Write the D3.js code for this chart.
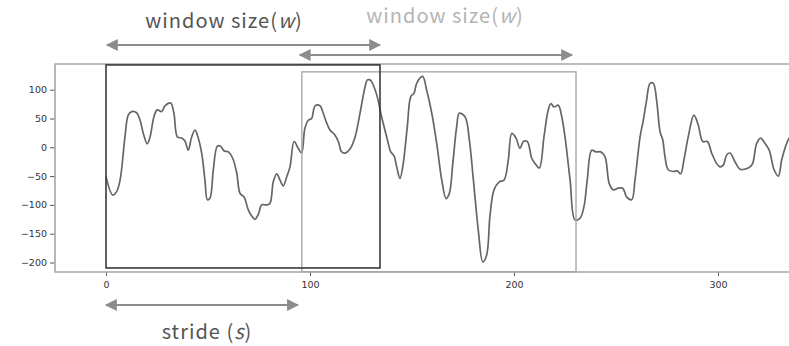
<!DOCTYPE html>
<html lang="en">
<head>
    <meta charset="UTF-8"/>
    <title>Sliding window</title>
    <script src="https://d3js.org/d3.v7.min.js"></script>
    <style>
        body { margin: 0; background: #fff; }
        text { font-family: "Noto Sans CJK KR", "Noto Sans", sans-serif; }
    </style>
</head>
<body>
<script>

    var w = 789;
    var h = 346;

    // time steps and signal values
    var steps = [0, 3.3, 5.2, 6.9, 9.3, 10.9, 12.6, 15, 16.7, 18.3, 20.2, 21.6, 23.5, 25.1, 27.3, 28.9, 31.7, 33.3, 35, 37.1,
        38.7, 40.3, 42, 43.6, 44.8, 46.9, 48.5, 49.7, 51, 52.6, 54.6, 56.2, 57.8, 60, 62.1, 64.1, 65.7, 67.6, 69.8, 71.4,
        73, 74.7, 76.3, 78.8, 80.4, 82, 83.7, 85.3, 86.9, 88.6, 90.2, 92.2, 94.3, 95.9, 97.5, 99.2, 100.8, 102.5, 104.9, 106.5,
        108.2, 109.8, 112.3, 113.9, 115.5, 117.2, 119.6, 122.1, 124.5, 127, 128.1, 129.4, 130.2, 132.7, 135.1, 137.6, 139.6, 141.2, 142.5, 144.1,
        145.7, 147.7, 149.4, 151, 152.3, 155.2, 157.2, 159.7, 162.1, 164.6, 166.7, 168.3, 170, 171.9, 173.2, 176, 178.1, 180.1, 182.5, 184.7,
        186.6, 188.2, 190.2, 192.8, 195.1, 197.2, 198.9, 201, 202.9, 204.6, 206.5, 208.7, 210.3, 212.4, 214.7, 216.8, 218.1, 219.6, 221.7, 223.4,
        225, 227.5, 229.9, 232.4, 234.3, 235.9, 238.1, 240.2, 242.5, 244.6, 246.7, 248.7, 251.1, 253.3, 255.2, 257.7, 259.3, 261.8, 263.4, 265,
        266.7, 268.3, 269.9, 271.6, 272.9, 274, 275.6, 278.1, 280, 281.7, 283.3, 285.4, 288.2, 290.3, 292.5, 294.8, 296.9, 299.3, 301, 302.6,
        304.3, 305.9, 308.3, 310.8, 313.2, 315.7, 317, 319, 320.9, 323, 325.1, 327.5, 329.6, 331.2, 332.8, 334.4, 337];
    var values = [-51, -83, -77, -57, 18, 56, 62, 60, 47, 24, 6, 18, 53, 65, 62, 72, 77, 59, 18, 16,
        11, -5, 18, 30, 21, -10, -57, -91, -88, -39, 2, 2, -6, -8, -19, -45, -80, -86, -109, -119,
        -125, -116, -100, -100, -97, -60, -46, -57, -67, -51, -34, 10, -2, -10, 33, 47, 50, 72, 72, 59,
        42, 30, 21, 10, -8, -10, -3, 18, 59, 105, 117, 117, 114, 91, 53, 18, -8, -15, -34, -54,
        -28, 36, 88, 94, 111, 123, 99, 59, 7, -57, -89, -80, -28, 36, 59, 53, 13, -57, -144, -199,
        -187, -120, -74, -60, -57, -22, 24, 16, -2, 10, 10, -19, -28, -36, 18, 65, 76, 70, 73, 53,
        18, -57, -126, -123, -103, -57, -5, -8, -8, -16, -63, -74, -71, -71, -86, -91, -57, 18, 47, 82,
        111, 111, 82, 27, 13, -16, -39, -42, -41, -46, -22, 18, 56, 39, 10, 10, -10, -28, -34, -31,
        -13, -10, -25, -38, -38, -34, -28, 7, 16, 7, -5, -39, -50, -22, -2, 13, 25];

    var xTicks = [0, 100, 200, 300];
    var yTicks = [100, 50, 0, -50, -100, -150, -200];

    // windows: [start, end] in steps
    var window1 = [0, 134.3];
    var window2 = [96, 230.4];

    var margin = {left: 55, top: 64, bottom: 272};

    var xScale = d3.scaleLinear()
                    .domain([-25, 335])
                    .range([margin.left, 789.4]);

    var yScale = d3.scaleLinear()
                    .domain([-216.5, 144.6])
                    .range([margin.bottom, margin.top]);

    var svg = d3.select("body")
                .append("svg")
                .attr("width", w)
                .attr("height", h);

    svg.append("defs").append("clipPath")
        .attr("id", "plot")
        .append("rect")
        .attr("x", margin.left)
        .attr("y", margin.top)
        .attr("width", w - margin.left)
        .attr("height", margin.bottom - margin.top);

    // arrow heads
    var defs = svg.select("defs");
    defs.append("marker")
        .attr("id", "head")
        .attr("viewBox", "0 0 10 10")
        .attr("refX", 9)
        .attr("refY", 5)
        .attr("markerWidth", 14)
        .attr("markerHeight", 12)
        .attr("markerUnits", "userSpaceOnUse")
        .attr("orient", "auto-start-reverse")
        .append("path")
        .attr("d", "M0,0 L10,5 L0,10 Z")
        .style("fill", "#8c8c8c");

    // y axis
    var yAxis = d3.axisLeft(yScale)
                    .tickValues(yTicks)
                    .tickSize(5)
                    .tickPadding(3)
                    .tickFormat(function(d){ return d < 0 ? "\u2212" + Math.abs(d) : d; });

    var gy = svg.append("g")
        .attr("transform", "translate(" + margin.left + ",0)")
        .call(yAxis);
    gy.select(".domain").remove();

    var xAxis = d3.axisBottom(xScale)
                    .tickValues(xTicks)
                    .tickSize(4)
                    .tickPadding(5);

    var gx = svg.append("g")
        .attr("transform", "translate(0," + margin.bottom + ")")
        .call(xAxis);
    gx.select(".domain").remove();

    svg.selectAll(".tick line").style("stroke", "#555");
    svg.selectAll(".tick text")
        .style("font-size", "9.5px")
        .style("fill", "#333")
        .style("font-family", "'DejaVu Sans', sans-serif");

    // spines: left, top, bottom
    svg.append("path")
        .attr("d", "M" + w + "," + margin.top + " L" + margin.left + "," + margin.top +
                   " L" + margin.left + "," + margin.bottom + " L" + w + "," + margin.bottom)
        .style("fill", "none")
        .style("stroke", "#a6a6a6")
        .style("stroke-width", 1.6);

    // signal
    var line = d3.line()
        .x(function(d, i){ return xScale(steps[i]); })
        .y(function(d){ return yScale(d); })
        .curve(d3.curveCatmullRom);

    svg.append("path")
        .datum(values)
        .attr("clip-path", "url(#plot)")
        .attr("d", line)
        .style("fill", "none")
        .style("stroke", "#666")
        .style("stroke-width", 1.7);

    // window boxes
    svg.append("rect")
        .attr("x", xScale(window2[0]))
        .attr("y", yScale(131))
        .attr("width", xScale(window2[1]) - xScale(window2[0]))
        .attr("height", yScale(-216) - yScale(131))
        .style("fill", "none")
        .style("stroke", "#a8a8a8")
        .style("stroke-width", 1.4);

    svg.append("rect")
        .attr("x", xScale(window1[0]))
        .attr("y", yScale(143))
        .attr("width", xScale(window1[1]) - xScale(window1[0]))
        .attr("height", yScale(-209.5) - yScale(143))
        .style("fill", "none")
        .style("stroke", "#3a3a3a")
        .style("stroke-width", 1.6);

    // double headed arrows
    function arrow(x1, x2, y) {
        svg.append("line")
            .attr("x1", x1).attr("x2", x2)
            .attr("y1", y).attr("y2", y)
            .attr("marker-start", "url(#head)")
            .attr("marker-end", "url(#head)")
            .style("stroke", "#8c8c8c")
            .style("stroke-width", 2);
    }

    arrow(xScale(window1[0]) + 1, xScale(window1[1]), 45);
    arrow(xScale(window2[0]) - 2, xScale(window2[1]) - 4, 55);
    arrow(xScale(window1[0]), xScale(window2[0]) - 4, 305);

    function label(x, y, color, main, ital, close) {
        var t = svg.append("text")
            .attr("x", x)
            .attr("y", y)
            .attr("text-anchor", "middle")
            .style("font-size", "20px")
            .style("letter-spacing", "1px")
            .style("fill", color);
        t.append("tspan").text(main);
        t.append("tspan").style("font-style", "italic").text(ital);
        t.append("tspan").text(close);
    }

    label(224, 28, "#555", "window size(", "w", ")");
    label(445, 23, "#b4b4b4", "window size(", "w", ")");
    label(207, 339, "#555", "stride (", "s", ")");

</script>
</body>
</html>
